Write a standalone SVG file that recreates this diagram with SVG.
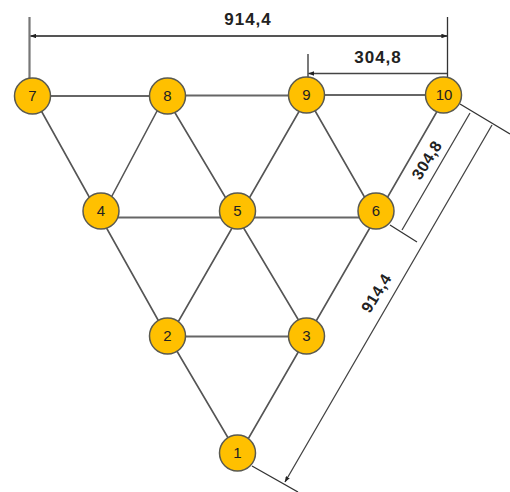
<svg xmlns="http://www.w3.org/2000/svg" width="510" height="492" viewBox="0 0 510 492">
<style>
.e{stroke:#555;stroke-width:1.6;fill:none}
.h{stroke:#666;stroke-width:2.2;fill:none}
.d{stroke:#333;stroke-width:1.3;fill:none}
.g{stroke:#777;stroke-width:2.2;fill:none}
.da{stroke:#444;stroke-width:1.3;fill:none;marker-start:url(#a);marker-end:url(#a)}
.dt{stroke:#555;stroke-width:2;fill:none;marker-start:url(#a);marker-end:url(#a)}
.n circle{fill:#ffc000;stroke:#5a5a50;stroke-width:1.5}
.n text{font:15px "Liberation Sans",Arial,sans-serif;fill:#222;text-anchor:middle}
.l{font:bold 17px "Liberation Sans",Arial,sans-serif;fill:#222;text-anchor:middle;letter-spacing:1px}
.r{font:bold 16px "Liberation Sans",Arial,sans-serif;fill:#222;text-anchor:middle;letter-spacing:.5px}
</style>
<defs>
<marker id="a" viewBox="0 0 8 6" refX="7.5" refY="3" markerWidth="6" markerHeight="4.500" markerUnits="userSpaceOnUse" orient="auto-start-reverse"><path d="M0 0L8 3L0 6Z" fill="#222"/></marker>
</defs>
<g id="connectors">
<path class="h" d="M33 96H168M168 95.500H307M307 95H444M101 217.500H376M168 336.500H306"/>
<path class="e" d="M33 96L97 211L167 336M168 336L237 453M165 96L308 336M306 95L372.500 211M165 96L104 211M308.500 95L170 336M446.500 95L240 453"/>
</g>
<g id="dimensions">
<path class="g" d="M29.500 17V80"/>
<path class="d" d="M447.500 17V80M308 54V78M460 104L510 134M390 225L417 242M252 466L298 492"/>
<path class="dt" d="M30.500 36H447"/>
<path class="da" d="M308.500 73.500H447M470 113L402 230M492 125L285 482"/>
<text class="l" x="248" y="25">914,4</text>
<text class="l" x="378" y="63">304,8</text>
<text class="r" transform="translate(431.500 163) rotate(-58)">304,8</text>
<text class="r" transform="translate(381 296) rotate(-58)">914,4</text>
</g>
<g id="node7" class="n"><circle cx="32.500" cy="96" r="18"/><text x="32.500" y="101">7</text></g>
<g id="node8" class="n"><circle cx="167.500" cy="96" r="18"/><text x="167.500" y="101">8</text></g>
<g id="node9" class="n"><circle cx="306.500" cy="95" r="18"/><text x="306.500" y="100">9</text></g>
<g id="node10" class="n"><circle cx="443.500" cy="95" r="18"/><text x="444" y="100">10</text></g>
<g id="node4" class="n"><circle cx="101" cy="211" r="18"/><text x="101" y="216">4</text></g>
<g id="node5" class="n"><circle cx="237.500" cy="211" r="18"/><text x="237.500" y="216">5</text></g>
<g id="node6" class="n"><circle cx="376" cy="211" r="18"/><text x="376" y="216">6</text></g>
<g id="node2" class="n"><circle cx="167.500" cy="336" r="18"/><text x="167.500" y="341">2</text></g>
<g id="node3" class="n"><circle cx="306.500" cy="336" r="18"/><text x="306.500" y="341">3</text></g>
<g id="node1" class="n"><circle cx="237.500" cy="453" r="18"/><text x="237.500" y="458">1</text></g>
</svg>
